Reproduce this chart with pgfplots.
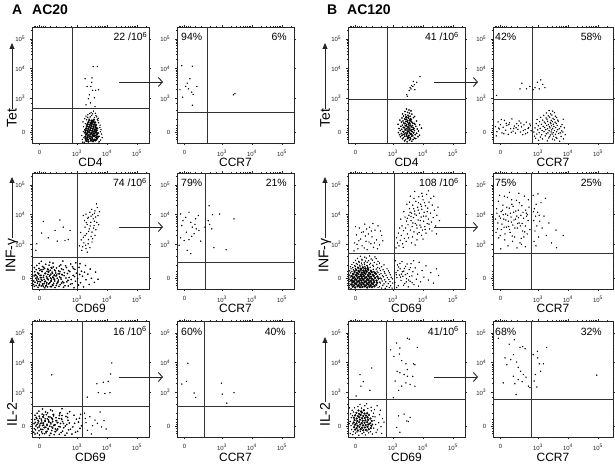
\documentclass[border=0pt]{standalone}
\usepackage{fontspec}
\setmainfont{Liberation Sans}
\usepackage{pgfplots}
\pgfplotsset{compat=1.18}
\usetikzlibrary{arrows.meta}

% axes in display units: 10^3 -> 3, 10^4 -> 4, 10^5 -> 5, zero near 1.8
\pgfplotsset{
  flow/.style={
    scale only axis, width=117pt, height=116pt,
    xmin=1.5, xmax=5.4, ymin=1.5, ymax=5.4,
    clip mode=individual,
    axis line style={black!85, line width=0.6pt},
    xtick={1.75,3,4,5}, ytick={1.85,3,4,5},
    xticklabels={0,10\textsuperscript{3},10\textsuperscript{4},10\textsuperscript{5}},
    yticklabels={0,10\textsuperscript{3},10\textsuperscript{4},10\textsuperscript{5}},
    minor xtick={1.56,1.62,1.68,1.82,1.88,1.95,2.1,2.3,2.6,2.8,3.3,3.48,3.6,3.7,3.78,3.85,3.9,3.95,4.3,4.48,4.6,4.7,4.78,4.85,4.9,4.95,5.3},
    minor ytick={1.62,1.7,1.78,1.92,2.0,2.1,2.3,2.6,2.85,3.3,3.48,3.6,3.7,3.78,3.85,3.9,3.95,4.3,4.48,4.6,4.7,4.78,4.85,4.9,4.95,5.3},
    tick align=outside, major tick length=2.2pt, minor tick length=1.3pt,
    tick style={black!85, line width=0.5pt},
    tick label style={font=\fontsize{6}{7}\selectfont, black!85},
    xticklabel style={yshift=-1.5pt},
    yticklabel style={xshift=-1pt},
  },
  gate/.style={black!80, line width=0.65pt, no marks},
  dot/.style={only marks, mark=*, mark size=0.45pt, mark options={draw=none, fill=black}},
  mid/.style={only marks, mark=*, mark size=0.6pt, mark options={draw=none, fill=black}},
  big/.style={only marks, mark=*, mark size=1pt, mark options={draw=none, fill=black}},
}
\tikzset{
  lab/.style={font=\fontsize{10.5}{12}\selectfont, inner sep=0pt},
  xlab/.style={font=\fontsize{12}{14}\selectfont, anchor=base, yshift=-24pt, inner sep=0pt},
  ylab/.style={rotate=90, anchor=west, inner sep=0pt, font=\fontsize{14}{16}\selectfont},
  yarr/.style={line width=0.9pt, black!85, -{Triangle[length=6pt,width=5pt]}},
  harr/.style={line width=0.9pt, black!85, -{Straight Barb[length=4pt,width=9pt,line width=0.9pt]}},
}

\begin{document}
\begin{tikzpicture}
\useasboundingbox (0,0) rectangle (615pt,465pt);

\node[anchor=base west, inner sep=0pt, font=\bfseries\fontsize{14}{16}\selectfont] at (12pt,450pt) {A};
\node[anchor=base west, inner sep=0pt, font=\bfseries\fontsize{14}{16}\selectfont] at (32pt,450pt) {AC20};
\node[anchor=base west, inner sep=0pt, font=\bfseries\fontsize{14}{16}\selectfont] at (327pt,450pt) {B};
\node[anchor=base west, inner sep=0pt, font=\bfseries\fontsize{14}{16}\selectfont] at (347pt,450pt) {AC120};

% ---------------- row 1 ----------------
\begin{axis}[flow, at={(32pt,322pt)}, anchor=south west]
\addplot[gate] coordinates {(2.86,1.5) (2.86,5.4)};
\addplot[gate] coordinates {(1.5,2.66) (5.4,2.66)};
\addplot[big] coordinates {
(3.31,1.57) (3.38,1.55) (3.47,1.58) (3.54,1.56) (3.62,1.59)
(3.29,1.64) (3.36,1.62) (3.44,1.65) (3.51,1.63) (3.58,1.61) (3.66,1.64)
(3.28,1.71) (3.35,1.69) (3.42,1.72) (3.50,1.70) (3.57,1.73) (3.64,1.69) (3.70,1.71)
(3.30,1.78) (3.37,1.76) (3.45,1.79) (3.52,1.77) (3.59,1.75) (3.66,1.78)
(3.27,1.85) (3.34,1.83) (3.41,1.86) (3.49,1.84) (3.56,1.82) (3.63,1.85) (3.70,1.83)
(3.29,1.92) (3.36,1.90) (3.44,1.93) (3.51,1.91) (3.58,1.89) (3.65,1.92)
(3.31,1.99) (3.38,1.97) (3.46,2.00) (3.53,1.98) (3.60,1.96) (3.67,1.99)
(3.33,2.06) (3.40,2.04) (3.48,2.07) (3.55,2.05) (3.62,2.03)
(3.35,2.13) (3.43,2.11) (3.50,2.14) (3.57,2.12) (3.63,2.10)
(3.38,2.20) (3.46,2.18) (3.53,2.21) (3.60,2.19)
(3.41,2.27) (3.49,2.25) (3.56,2.28)};
\addplot[dot] coordinates {
(3.18,1.62) (3.21,1.88) (3.16,1.75) (3.22,2.05) (3.24,1.52) (3.20,2.21) (3.26,2.32) (3.30,2.40)
(3.36,2.45) (3.44,2.38) (3.52,2.48) (3.58,2.36) (3.63,2.42) (3.68,2.30) (3.72,2.18) (3.76,2.02)
(3.78,1.88) (3.75,1.72) (3.79,1.60) (3.74,1.55) (3.82,1.80) (3.80,1.95) (3.70,2.25) (3.40,2.34)
(3.47,2.52) (3.55,2.57) (3.32,2.28) (3.25,1.95) (3.23,1.68) (3.19,1.53) (3.77,2.10) (3.84,1.68)
(3.66,2.38) (3.49,2.43) (3.35,2.36) (3.28,2.15) (3.73,1.50) (3.71,2.33) (3.61,2.50) (3.42,2.49)
(3.27,3.66) (3.34,3.40) (3.38,2.99) (3.46,3.40) (3.49,3.54) (3.52,3.27) (3.54,4.07) (3.68,4.07)
(3.62,3.27) (3.72,3.29) (3.50,3.69) (3.58,3.02) (3.41,3.12) (3.30,2.78) (3.60,2.72) (3.45,2.85)};
\node[lab, anchor=base east, xshift=-1.5pt, yshift=-14pt] at (rel axis cs:1,1) {22 /10\textsuperscript{6}};
\node[xlab] at (rel axis cs:0.5,0) {CD4};
\end{axis}

\begin{axis}[flow, at={(177pt,322pt)}, anchor=south west]
\addplot[gate] coordinates {(2.51,1.5) (2.51,5.4)};
\addplot[gate] coordinates {(1.5,2.54) (5.4,2.54)};
\addplot[dot] coordinates {
(1.66,4.10) (2.01,4.08) (1.60,3.29) (1.69,3.04) (1.79,3.40) (1.88,3.32) (1.93,3.66)
(1.99,3.21) (2.04,3.13) (2.16,3.40) (2.01,2.77) (1.84,3.51) (3.38,3.12) (3.43,3.16)};
\node[lab, anchor=base west, xshift=4pt, yshift=-14pt] at (rel axis cs:0,1) {94\%};
\node[lab, anchor=base east, xshift=-7pt, yshift=-14pt] at (rel axis cs:1,1) {6\%};
\node[xlab] at (rel axis cs:0.5,0) {CCR7};
\end{axis}

\begin{axis}[flow, at={(348pt,322pt)}, anchor=south west]
\addplot[gate] coordinates {(2.82,1.5) (2.82,5.4)};
\addplot[gate] coordinates {(1.5,2.96) (5.4,2.96)};
\addplot[mid] coordinates {
(3.38,1.57) (3.47,1.54) (3.55,1.59) (3.63,1.56)
(3.31,1.64) (3.42,1.61) (3.50,1.66) (3.58,1.63) (3.67,1.62) (3.76,1.65)
(3.25,1.71) (3.35,1.68) (3.44,1.73) (3.49,1.70) (3.56,1.69) (3.62,1.72) (3.71,1.67) (3.83,1.71)
(3.22,1.78) (3.30,1.75) (3.39,1.80) (3.46,1.77) (3.53,1.76) (3.59,1.79) (3.66,1.74) (3.74,1.78) (3.88,1.76)
(3.18,1.85) (3.28,1.82) (3.36,1.87) (3.43,1.84) (3.48,1.83) (3.55,1.86) (3.61,1.81) (3.69,1.85) (3.79,1.83)
(3.24,1.92) (3.33,1.89) (3.40,1.94) (3.47,1.91) (3.52,1.90) (3.58,1.93) (3.64,1.88) (3.72,1.92) (3.85,1.90)
(3.20,1.99) (3.29,1.96) (3.37,2.01) (3.44,1.98) (3.50,1.97) (3.56,2.00) (3.63,1.95) (3.70,1.99) (3.81,1.97) (3.95,2.00)
(3.26,2.06) (3.34,2.03) (3.41,2.08) (3.47,2.05) (3.53,2.04) (3.60,2.07) (3.67,2.02) (3.76,2.06)
(3.17,2.13) (3.31,2.10) (3.39,2.15) (3.45,2.12) (3.51,2.11) (3.57,2.14) (3.65,2.09) (3.73,2.13) (3.89,2.11)
(3.28,2.20) (3.36,2.17) (3.43,2.22) (3.49,2.19) (3.55,2.18) (3.62,2.21) (3.70,2.16)
(3.23,2.27) (3.33,2.24) (3.41,2.29) (3.48,2.26) (3.54,2.25) (3.61,2.28) (3.78,2.24)
(3.30,2.34) (3.39,2.31) (3.46,2.36) (3.52,2.33) (3.59,2.32) (3.68,2.35)
(3.35,2.41) (3.44,2.38) (3.50,2.43) (3.57,2.40) (3.72,2.39)
(3.32,2.48) (3.42,2.45) (3.55,2.50) (3.63,2.47)
(3.40,2.56) (3.49,2.53) (3.60,2.58) (3.45,2.64) (3.53,2.61)
(3.39,1.73) (3.45,1.80) (3.51,1.74) (3.57,1.82) (3.63,1.77) (3.36,1.88) (3.42,1.95) (3.49,1.87)
(3.54,1.94) (3.61,1.90) (3.67,1.96) (3.38,2.02) (3.44,2.09) (3.50,2.01) (3.56,2.10) (3.62,2.04)
(3.40,2.16) (3.47,2.23) (3.53,2.15) (3.59,2.24) (3.65,2.17) (3.45,2.30) (3.51,2.37) (3.57,2.29)
(3.34,1.79) (3.68,1.84) (3.48,1.65) (3.53,1.69) (3.43,2.36) (3.58,1.66)};
\addplot[dot] coordinates {
(3.46,3.12) (3.54,3.27) (3.60,3.32) (3.66,3.40) (3.71,3.46) (3.79,3.54) (3.73,3.29) (3.62,3.43)
(3.90,3.73) (3.57,3.36) (3.68,3.57) (3.48,3.07)};
\node[lab, anchor=base east, xshift=-6pt, yshift=-14pt] at (rel axis cs:1,1) {41 /10\textsuperscript{6}};
\node[xlab] at (rel axis cs:0.5,0) {CD4};
\end{axis}

\begin{axis}[flow, width=120pt, xmax=5.5, at={(493pt,322pt)}, anchor=south west]
\addplot[gate] coordinates {(2.80,1.5) (2.80,5.4)};
\addplot[gate] coordinates {(1.5,2.98) (5.5,2.98)};
\addplot[dot] coordinates {
(3.02,1.59) (3.31,1.57) (3.55,1.60) (3.72,1.56)
(2.92,1.66) (3.15,1.64) (3.36,1.67) (3.48,1.63) (3.63,1.66) (3.85,1.64)
(2.88,1.73) (3.08,1.70) (3.24,1.74) (3.39,1.71) (3.52,1.73) (3.60,1.69) (3.77,1.72)
(2.96,1.80) (3.12,1.78) (3.28,1.81) (3.41,1.77) (3.47,1.80) (3.58,1.79) (3.69,1.82) (3.91,1.78)
(2.86,1.87) (3.04,1.85) (3.20,1.88) (3.33,1.84) (3.44,1.87) (3.51,1.85) (3.62,1.88) (3.74,1.84) (3.83,1.87)
(2.99,1.94) (3.14,1.92) (3.26,1.95) (3.37,1.91) (3.46,1.94) (3.55,1.92) (3.66,1.95) (3.79,1.91)
(2.90,2.01) (3.07,1.99) (3.22,2.02) (3.32,1.98) (3.40,2.01) (3.49,1.99) (3.59,2.02) (3.71,1.98) (3.88,2.01)
(3.01,2.08) (3.17,2.06) (3.29,2.09) (3.38,2.05) (3.45,2.08) (3.53,2.06) (3.64,2.09) (3.76,2.05)
(2.94,2.15) (3.11,2.13) (3.25,2.16) (3.35,2.12) (3.43,2.15) (3.51,2.13) (3.61,2.16) (3.80,2.12)
(3.05,2.22) (3.21,2.20) (3.32,2.23) (3.41,2.19) (3.48,2.22) (3.57,2.20) (3.68,2.23)
(2.97,2.29) (3.16,2.27) (3.30,2.30) (3.44,2.26) (3.54,2.29) (3.66,2.27) (3.84,2.30)
(3.09,2.36) (3.27,2.34) (3.39,2.37) (3.50,2.33) (3.62,2.36)
(3.19,2.43) (3.34,2.41) (3.46,2.44) (3.58,2.40) (3.28,2.51) (3.42,2.48) (3.55,2.52) (3.37,2.59) (3.49,2.57)
(1.58,2.05) (1.63,1.88) (1.67,2.21) (1.71,1.97) (1.75,2.12) (1.80,1.84) (1.84,2.03) (1.88,2.26)
(1.92,1.93) (1.96,2.09) (2.01,1.79) (2.05,2.18) (2.09,1.98) (2.13,2.31) (2.17,1.90) (2.21,2.07)
(2.25,1.83) (2.29,2.15) (2.33,1.96) (2.37,2.24) (2.41,1.87) (2.45,2.04) (2.49,1.78) (2.53,2.11)
(2.57,1.95) (2.61,2.20) (2.65,1.85) (2.69,2.02) (2.73,2.14) (2.77,1.91) (1.61,1.74) (1.78,2.29)
(1.94,2.16) (2.11,1.86) (2.27,2.01) (2.43,2.17) (2.59,1.81) (2.75,2.08) (1.69,2.00) (1.86,1.81)
(2.03,2.12) (2.19,1.99) (2.35,2.08) (2.51,1.92) (2.67,1.99)
(2.40,3.32) (2.46,3.51) (2.62,3.32) (2.73,3.40) (2.90,3.36) (2.98,3.54) (3.04,3.32) (3.09,3.62)
(3.16,3.47) (3.23,3.36) (2.84,3.29) (1.62,3.10)};
\node[lab, anchor=base west, xshift=2pt, yshift=-14pt] at (rel axis cs:0,1) {42\%};
\node[lab, anchor=base east, xshift=-11pt, yshift=-14pt] at (rel axis cs:1,1) {58\%};
\node[xlab] at (rel axis cs:0.5,0) {CCR7};
\end{axis}

% ---------------- row 2 ----------------
\begin{axis}[flow, at={(32pt,176pt)}, anchor=south west]
\addplot[gate] coordinates {(3.01,1.5) (3.01,5.4)};
\addplot[gate] coordinates {(1.5,2.56) (5.4,2.56)};
\addplot[mid] coordinates {
(1.58,1.59) (1.70,1.56) (1.81,1.60) (1.93,1.54) (2.02,1.57) (2.15,1.58) (2.27,1.55) (2.40,1.59) (2.55,1.56) (2.71,1.60) (2.90,1.54) (3.22,1.57)
(1.55,1.65) (1.64,1.62) (1.75,1.66) (1.86,1.63) (1.97,1.61) (2.06,1.67) (2.18,1.64) (2.31,1.62) (2.44,1.65) (2.60,1.61) (2.78,1.66) (3.05,1.63) (3.41,1.65)
(1.60,1.73) (1.68,1.70) (1.79,1.74) (1.90,1.68) (1.99,1.71) (2.10,1.72) (2.22,1.69) (2.35,1.73) (2.49,1.70) (2.66,1.74) (2.84,1.68) (3.12,1.71) (3.58,1.72)
(1.56,1.77) (1.66,1.80) (1.76,1.75) (1.84,1.79) (1.95,1.76) (2.04,1.81) (2.14,1.78) (2.26,1.77) (2.38,1.80) (2.52,1.75) (2.70,1.79) (2.95,1.76) (3.30,1.81)
(1.62,1.86) (1.72,1.83) (1.82,1.88) (1.91,1.82) (2.01,1.85) (2.12,1.87) (2.23,1.84) (2.34,1.86) (2.47,1.83) (2.63,1.87) (2.81,1.82) (3.02,1.85) (3.48,1.86) (3.70,1.83)
(1.57,1.94) (1.67,1.91) (1.77,1.95) (1.88,1.89) (1.98,1.92) (2.08,1.93) (2.19,1.90) (2.30,1.94) (2.42,1.91) (2.57,1.95) (2.74,1.89) (2.92,1.92) (3.18,1.93)
(1.61,1.98) (1.71,2.01) (1.80,1.96) (1.93,2.02) (2.03,1.99) (2.13,2.00) (2.24,1.97) (2.37,2.01) (2.51,1.98) (2.68,2.02) (2.87,1.96) (3.09,1.99) (3.36,2.00)
(1.59,2.08) (1.69,2.05) (1.83,2.09) (1.94,2.03) (2.05,2.06) (2.17,2.07) (2.29,2.04) (2.43,2.08) (2.58,2.05) (2.76,2.09) (2.98,2.03) (3.25,2.06) (3.62,2.07)
(1.64,2.15) (1.76,2.12) (1.87,2.16) (2.00,2.10) (2.11,2.13) (2.25,2.14) (2.39,2.11) (2.54,2.15) (2.72,2.12) (2.93,2.16) (3.15,2.10)
(1.58,2.22) (1.73,2.19) (1.89,2.23) (2.02,2.17) (2.16,2.20) (2.32,2.21) (2.48,2.18) (2.65,2.22) (2.88,2.19) (3.07,2.23) (3.44,2.17)
(1.66,2.29) (1.85,2.26) (2.07,2.30) (2.21,2.24) (2.41,2.27) (2.62,2.28) (2.85,2.25) (3.28,2.29)
(1.74,2.36) (1.96,2.33) (2.20,2.37) (2.46,2.31) (2.79,2.34) (3.10,2.35)
(1.81,2.43) (2.09,2.40) (2.53,2.44) (2.96,2.38)
(1.74,1.62) (1.85,1.67) (1.96,1.60) (2.07,1.69) (2.20,1.63) (2.33,1.68) (1.70,1.75) (1.81,1.81)
(1.92,1.74) (2.03,1.83) (2.13,1.76) (2.25,1.82) (2.37,1.74) (1.78,1.88) (1.89,1.95) (2.00,1.87)
(2.10,1.96) (2.21,1.89) (2.32,1.97) (1.73,2.01) (1.84,2.09) (1.95,2.02) (2.06,2.10) (2.18,2.03)
(2.28,2.11) (1.80,2.15) (1.92,2.19) (2.04,2.16) (2.14,2.22) (2.46,1.88) (2.42,2.01) (1.67,1.87)
(1.63,1.96) (2.56,1.71) (2.50,1.99) (1.99,1.67) (2.11,1.58) (1.88,1.58) (2.24,1.95) (2.15,1.84)};
\addplot[dot] coordinates {
(3.21,3.97) (3.30,4.02) (3.38,3.91) (3.43,4.08) (3.52,4.00) (3.60,4.13) (3.68,4.24) (3.70,3.97)
(3.54,3.86) (3.46,3.74) (3.34,3.67) (3.27,3.58) (3.41,3.52) (3.57,3.63) (3.50,3.41) (3.32,3.36)
(3.63,3.49) (3.21,3.24) (3.38,3.16) (3.52,3.19) (3.29,2.97) (3.43,2.89) (3.16,2.80) (3.34,2.74)
(3.66,3.74) (3.25,3.80) (3.36,3.88) (3.47,3.95) (3.58,4.05) (3.62,3.92) (3.44,3.62) (3.55,3.55)
(3.39,3.44) (3.27,3.30) (3.47,3.27) (3.60,3.30) (3.23,3.05) (3.37,3.02) (3.50,3.08) (3.19,2.92)
(3.30,2.86) (3.12,3.40) (3.72,3.66) (3.75,4.10) (3.49,4.18) (3.65,4.36) (3.08,2.95) (3.14,3.15)
(3.58,3.78) (3.31,3.73)
(1.88,3.77) (1.82,3.38) (2.27,3.47) (2.54,3.58) (2.60,3.13) (2.71,3.16) (1.66,3.02) (2.43,3.82)
(2.77,3.47) (2.04,3.22) (2.34,3.11) (1.63,2.80)};
\node[lab, anchor=base east, xshift=-2pt, yshift=-14pt] at (rel axis cs:1,1) {74 /10\textsuperscript{6}};
\node[xlab] at (rel axis cs:0.5,0) {CD69};
\end{axis}

\begin{axis}[flow, at={(177pt,176pt)}, anchor=south west]
\addplot[gate] coordinates {(2.46,1.5) (2.46,5.4)};
\addplot[gate] coordinates {(1.5,2.40) (5.4,2.40)};
\addplot[dot] coordinates {
(1.62,4.02) (1.70,3.80) (1.79,3.91) (1.90,4.08) (1.96,3.74) (2.01,3.58) (2.12,3.86) (2.21,3.97)
(2.07,3.36) (1.81,3.41) (1.66,3.63) (1.74,3.13) (1.90,3.16) (2.29,3.11) (2.14,3.52) (1.99,3.27)
(1.57,2.97) (1.84,2.80) (1.96,2.69) (2.23,3.47) (1.62,3.22) (2.10,3.67) (2.43,3.58)
(2.57,4.30) (2.54,3.80) (2.59,3.67) (2.68,4.00) (2.66,3.52) (2.73,2.89) (2.92,4.02) (3.40,3.86) (3.14,2.82)};
\node[lab, anchor=base west, xshift=4pt, yshift=-14pt] at (rel axis cs:0,1) {79\%};
\node[lab, anchor=base east, xshift=-7pt, yshift=-14pt] at (rel axis cs:1,1) {21\%};
\node[xlab] at (rel axis cs:0.5,0) {CCR7};
\end{axis}

\begin{axis}[flow, at={(348pt,176pt)}, anchor=south west]
\addplot[gate] coordinates {(3.04,1.5) (3.04,5.4)};
\addplot[gate] coordinates {(1.5,2.69) (5.4,2.69)};
\addplot[big] coordinates {
(1.66,1.58) (1.74,1.55) (1.82,1.59) (1.90,1.56) (1.98,1.57) (2.06,1.59) (2.14,1.55) (2.22,1.58) (2.30,1.56) (2.38,1.59)
(1.62,1.65) (1.70,1.62) (1.78,1.66) (1.86,1.63) (1.94,1.64) (2.02,1.66) (2.10,1.62) (2.18,1.65) (2.26,1.63) (2.34,1.66) (2.44,1.64)
(1.65,1.72) (1.73,1.69) (1.81,1.73) (1.89,1.70) (1.97,1.71) (2.05,1.73) (2.13,1.69) (2.21,1.72) (2.29,1.70) (2.37,1.73) (2.47,1.71)
(1.62,1.79) (1.70,1.76) (1.78,1.80) (1.86,1.77) (1.94,1.78) (2.02,1.80) (2.10,1.76) (2.18,1.79) (2.26,1.77) (2.35,1.80) (2.45,1.78)
(1.66,1.86) (1.74,1.83) (1.82,1.87) (1.90,1.84) (1.98,1.85) (2.06,1.87) (2.14,1.83) (2.22,1.86) (2.30,1.84) (2.40,1.87) (2.52,1.85)
(1.63,1.93) (1.71,1.90) (1.79,1.94) (1.87,1.91) (1.95,1.92) (2.03,1.94) (2.11,1.90) (2.19,1.93) (2.27,1.91) (2.36,1.94) (2.48,1.92)
(1.68,2.00) (1.76,1.97) (1.84,2.01) (1.92,1.98) (2.00,1.99) (2.08,2.01) (2.16,1.97) (2.24,2.00) (2.33,1.98) (2.43,2.01)
(1.72,2.07) (1.80,2.04) (1.88,2.08) (1.96,2.05) (2.04,2.06) (2.12,2.08) (2.20,2.04) (2.29,2.07) (2.39,2.05)
(1.77,2.14) (1.85,2.11) (1.93,2.15) (2.01,2.12) (2.09,2.13) (2.17,2.15) (2.26,2.11)
(1.84,2.21) (1.92,2.18) (2.00,2.22) (2.08,2.19) (2.16,2.20)};
\addplot[dot] coordinates {
(1.54,1.54) (1.60,1.52) (2.50,1.55) (2.62,1.53) (2.74,1.52) (2.88,1.55) (2.97,1.53)
(1.55,1.61) (2.55,1.58) (2.66,1.62) (2.79,1.59) (2.92,1.61)
(1.53,1.69) (1.58,1.66) (2.58,1.70) (2.70,1.67) (2.84,1.68) (2.99,1.70)
(1.56,1.76) (2.56,1.73) (2.64,1.77) (2.76,1.74) (2.90,1.75)
(1.54,1.83) (1.59,1.80) (2.61,1.84) (2.72,1.81) (2.86,1.82) (2.98,1.84)
(1.57,1.90) (2.58,1.87) (2.68,1.91) (2.81,1.88) (2.94,1.89)
(1.55,1.97) (1.60,1.94) (2.55,1.98) (2.65,1.95) (2.77,1.96) (2.91,1.98)
(1.58,2.04) (1.65,2.01) (2.50,2.05) (2.60,2.02) (2.73,2.03) (2.88,2.05)
(1.56,2.11) (1.63,2.08) (1.70,2.12) (2.36,2.09) (2.47,2.10) (2.58,2.12) (2.71,2.08) (2.85,2.11)
(1.60,2.18) (1.68,2.15) (1.75,2.19) (2.34,2.16) (2.44,2.17) (2.55,2.19) (2.67,2.15) (2.80,2.18)
(1.58,2.25) (1.66,2.22) (1.74,2.26) (1.82,2.23) (1.90,2.27) (1.98,2.24) (2.06,2.25) (2.15,2.27) (2.24,2.23) (2.35,2.26) (2.49,2.22) (2.62,2.25)
(1.63,2.32) (1.72,2.29) (1.81,2.33) (1.89,2.30) (1.97,2.31) (2.05,2.33) (2.13,2.29) (2.22,2.32) (2.33,2.30) (2.46,2.33) (2.70,2.31)
(1.69,2.39) (1.78,2.36) (1.87,2.40) (1.95,2.37) (2.04,2.38) (2.14,2.40) (2.25,2.36) (2.38,2.39) (2.55,2.37)
(1.75,2.46) (1.86,2.43) (1.97,2.47) (2.08,2.44) (2.19,2.45) (2.32,2.47) (2.50,2.43)
(1.82,2.53) (1.96,2.50) (2.11,2.54) (2.27,2.51) (2.44,2.52) (1.91,2.60) (2.06,2.57) (2.22,2.61) (2.40,2.58)
(3.06,1.72) (3.10,2.05) (3.13,1.88) (3.15,2.31) (3.18,1.61) (3.21,1.97) (3.24,2.18) (3.27,1.79)
(3.30,2.42) (3.33,1.93) (3.36,2.10) (3.39,1.68) (3.42,2.26) (3.45,1.85) (3.48,2.02) (3.51,1.57)
(3.54,2.15) (3.57,1.76) (3.60,2.35) (3.63,1.94) (3.66,2.08) (3.70,1.65) (3.74,2.21) (3.78,1.83)
(3.82,2.00) (3.87,2.40) (3.92,1.74) (3.97,2.12) (4.03,1.90) (4.10,2.28) (4.18,1.80) (4.26,2.05)
(4.35,1.70) (4.45,2.18) (4.52,1.95) (3.08,2.45) (3.12,1.55) (3.19,2.24) (3.25,1.90) (3.31,2.08)
(3.35,1.62) (3.41,1.98) (3.47,2.34) (3.52,1.80) (3.58,2.22) (3.64,1.71) (3.69,2.45) (3.11,1.98)
(3.28,2.00) (3.44,1.74) (3.16,2.12) (3.23,2.36) (3.38,2.19) (3.55,1.92) (3.85,1.60)
(3.10,2.88) (3.15,3.05) (3.12,3.22) (3.20,2.95) (3.24,3.14) (3.18,3.38) (3.28,3.30) (3.32,3.02)
(3.35,3.46) (3.30,3.62) (3.38,3.20) (3.42,3.55) (3.45,3.78) (3.40,3.92) (3.48,3.35) (3.50,3.66)
(3.53,3.98) (3.55,4.20) (3.58,3.48) (3.60,3.80) (3.62,4.05) (3.64,3.60) (3.66,4.32) (3.68,3.90)
(3.70,3.42) (3.72,4.12) (3.74,3.70) (3.76,4.45) (3.78,3.98) (3.80,3.55) (3.82,4.25) (3.84,3.82)
(3.86,4.60) (3.88,4.05) (3.90,3.65) (3.92,4.35) (3.94,3.92) (3.96,4.18) (3.98,3.48) (4.00,4.50)
(4.02,3.78) (4.04,4.08) (4.06,3.60) (4.08,4.30) (4.10,3.95) (4.12,4.68) (4.14,3.70) (4.16,4.22)
(4.18,3.85) (4.20,4.42) (4.22,3.52) (4.25,4.05) (4.28,3.75) (4.31,4.32) (4.34,3.90) (4.38,4.15)
(4.42,3.62) (4.46,3.98) (4.50,4.25) (4.55,3.80) (3.58,4.62) (3.72,4.78) (3.96,4.72) (4.18,4.80)
(3.46,4.35) (3.36,4.10) (3.26,3.85) (3.52,3.22) (3.65,3.25) (3.80,3.15) (3.95,3.30) (4.10,3.38)
(4.30,3.45) (4.45,3.35) (3.22,3.55) (3.34,2.90) (3.44,3.10) (3.62,3.05) (3.74,2.98) (3.87,3.40)
(4.00,3.18) (3.70,4.55) (3.85,4.40) (3.98,4.62) (4.05,4.40) (3.55,4.42) (3.66,3.72) (3.79,3.65)
(3.91,3.80) (4.02,3.95) (4.14,4.10) (4.26,4.55) (3.60,3.93) (3.73,4.02) (3.84,4.15) (3.95,4.28)
(4.07,3.50) (4.20,3.68) (3.48,3.88) (3.57,4.08) (3.69,4.20) (3.81,3.35) (3.93,3.58) (4.36,4.62)
(1.72,3.05) (1.78,3.32) (1.83,2.85) (1.88,3.55) (1.92,3.18) (1.97,2.95) (2.01,3.42) (2.06,3.68)
(2.10,3.10) (2.14,2.82) (2.18,3.35) (2.22,3.58) (2.26,3.02) (2.30,3.25) (2.35,2.90) (2.40,3.48)
(2.45,3.15) (2.50,3.62) (2.55,2.98) (2.62,3.30) (1.70,2.78) (1.75,3.60) (1.86,3.12) (1.95,3.40)
(2.04,2.88) (2.12,3.52) (2.20,3.08) (2.28,3.45) (2.38,3.05) (2.48,2.85) (2.58,3.45) (1.80,3.00)
(2.08,3.28) (2.33,3.70) (2.66,3.12)};
\node[lab, anchor=base east, xshift=-6pt, yshift=-14pt] at (rel axis cs:1,1) {108 /10\textsuperscript{6}};
\node[xlab] at (rel axis cs:0.5,0) {CD69};
\end{axis}

\begin{axis}[flow, width=120pt, xmax=5.5, at={(493pt,176pt)}, anchor=south west]
\addplot[gate] coordinates {(2.79,1.5) (2.79,5.4)};
\addplot[gate] coordinates {(1.5,2.69) (5.5,2.69)};
\addplot[dot] coordinates {
(1.58,3.85) (1.62,4.20) (1.65,3.52) (1.68,4.45) (1.71,3.95) (1.74,3.30) (1.77,4.10) (1.80,3.68)
(1.83,4.32) (1.86,3.85) (1.89,3.15) (1.92,4.02) (1.95,3.58) (1.98,4.58) (2.01,3.78) (2.04,4.22)
(2.07,3.40) (2.10,3.92) (2.13,4.35) (2.16,3.65) (2.19,4.08) (2.22,3.25) (2.25,3.85) (2.28,4.48)
(2.31,3.55) (2.34,4.15) (2.37,3.72) (2.40,3.05) (2.43,3.98) (2.46,4.30) (2.49,3.45) (2.52,3.88)
(2.55,4.62) (2.58,3.62) (2.61,4.05) (2.64,3.35) (2.67,3.80) (2.70,4.25) (2.73,3.50) (1.60,3.40)
(1.66,3.72) (1.72,4.65) (1.78,3.50) (1.84,4.00) (1.90,3.35) (1.96,4.25) (2.02,3.60) (2.08,4.05)
(2.14,3.28) (2.20,3.82) (2.26,4.12) (2.32,3.70) (2.38,4.40) (2.44,3.20) (2.50,4.08) (2.56,3.42)
(2.62,3.95) (2.68,4.50) (1.63,4.05) (1.75,3.88) (1.87,3.58) (1.99,3.98) (2.11,3.75) (2.23,3.55)
(2.35,3.90) (2.47,3.70) (2.59,4.15) (1.69,3.22) (1.81,4.15) (1.93,3.82) (2.05,3.50) (2.17,4.28)
(2.29,3.95) (2.41,3.62) (2.53,3.25) (2.65,4.00) (2.00,2.95) (2.15,3.10) (2.30,2.88) (2.45,3.00)
(2.12,4.50) (2.36,4.72) (2.05,4.75) (1.88,4.62) (2.58,2.92) (1.76,2.85)
(2.84,4.65) (2.86,3.80) (2.88,4.20) (2.90,3.45) (2.92,3.95) (2.94,4.35) (2.96,3.62) (2.99,4.08)
(3.02,3.25) (3.06,3.78) (3.10,4.40) (3.14,3.55) (3.20,3.95) (3.28,3.30) (3.36,3.72) (3.45,3.05)
(3.60,3.48) (3.84,3.30) (3.62,2.89) (2.87,3.10) (2.93,2.95) (3.04,3.98) (2.85,4.10) (3.25,4.55) (3.00,4.70)};
\node[lab, anchor=base west, xshift=2pt, yshift=-14pt] at (rel axis cs:0,1) {75\%};
\node[lab, anchor=base east, xshift=-11pt, yshift=-14pt] at (rel axis cs:1,1) {25\%};
\node[xlab] at (rel axis cs:0.5,0) {CCR7};
\end{axis}

% ---------------- row 3 ----------------
\begin{axis}[flow, at={(32pt,28pt)}, anchor=south west]
\addplot[gate] coordinates {(3.19,1.5) (3.19,5.4)};
\addplot[gate] coordinates {(1.5,2.53) (5.4,2.53)};
\addplot[mid] coordinates {
(1.60,1.60) (1.75,1.57) (1.92,1.61) (2.08,1.55) (2.24,1.58) (2.41,1.59) (2.60,1.56) (2.83,1.60)
(1.56,1.66) (1.68,1.63) (1.82,1.67) (1.97,1.64) (2.13,1.62) (2.29,1.68) (2.47,1.65) (2.66,1.63) (2.95,1.66)
(1.62,1.74) (1.73,1.71) (1.86,1.75) (2.00,1.69) (2.16,1.72) (2.33,1.73) (2.52,1.70) (2.72,1.74) (3.02,1.69)
(1.58,1.78) (1.69,1.81) (1.79,1.76) (1.91,1.82) (2.04,1.79) (2.19,1.80) (2.36,1.77) (2.56,1.81) (2.78,1.76) (3.10,1.79)
(1.63,1.87) (1.74,1.84) (1.85,1.89) (1.96,1.83) (2.09,1.86) (2.23,1.88) (2.40,1.85) (2.61,1.87) (2.86,1.84) (3.15,1.88)
(1.57,1.95) (1.67,1.92) (1.78,1.96) (1.89,1.90) (2.00,1.93) (2.13,1.94) (2.27,1.91) (2.45,1.95) (2.66,1.92) (2.92,1.96)
(1.61,1.99) (1.72,2.02) (1.83,1.97) (1.94,2.03) (2.06,2.00) (2.19,2.01) (2.34,1.98) (2.52,2.02) (2.74,1.97) (3.05,2.00)
(1.59,2.09) (1.70,2.06) (1.81,2.10) (1.93,2.04) (2.05,2.07) (2.18,2.08) (2.32,2.05) (2.49,2.09) (2.70,2.06) (2.98,2.10)
(1.64,2.16) (1.76,2.13) (1.88,2.17) (2.01,2.11) (2.15,2.14) (2.30,2.15) (2.48,2.12) (2.69,2.16) (3.08,2.13)
(1.60,2.23) (1.74,2.20) (1.89,2.24) (2.05,2.18) (2.22,2.21) (2.41,2.22) (2.63,2.19) (2.90,2.23)
(1.67,2.30) (1.84,2.27) (2.02,2.31) (2.21,2.25) (2.42,2.28) (2.68,2.29) (3.12,2.26)
(1.73,2.37) (1.95,2.34) (2.18,2.38) (2.44,2.32) (2.76,2.35) (1.85,2.44) (2.12,2.41) (2.50,2.45)
(1.80,1.75) (1.92,1.82) (2.04,1.76) (2.16,1.84) (2.28,1.77) (1.76,1.90) (1.88,1.97) (2.00,1.89)
(2.12,1.98) (2.24,1.91) (2.36,1.99) (1.82,2.04) (1.94,2.11) (2.06,2.03) (2.18,2.12) (2.30,2.05)
(1.86,2.18) (1.98,2.25) (2.10,2.17) (2.22,2.26) (1.70,1.97) (2.44,1.84) (2.40,2.12) (1.97,1.68)
(2.12,1.62) (1.85,1.62) (2.27,1.68) (2.55,1.95) (2.50,2.22) (1.66,2.12)};
\addplot[dot] coordinates {
(3.77,2.34) (3.97,1.77) (3.60,2.07) (3.43,2.18) (3.68,1.96) (3.82,1.84) (3.52,1.88) (3.30,1.98)
(3.35,1.72) (3.25,2.30) (3.90,2.05) (3.48,1.60) (3.28,2.12)
(2.16,3.59) (3.66,3.29) (3.88,3.34) (4.04,3.37) (3.71,2.99) (3.93,2.96) (4.10,2.99) (4.12,3.62)
(4.16,3.99) (3.34,2.84)};
\node[lab, anchor=base east, xshift=-2pt, yshift=-14pt] at (rel axis cs:1,1) {16 /10\textsuperscript{6}};
\node[xlab] at (rel axis cs:0.5,0) {CD69};
\end{axis}

\begin{axis}[flow, at={(177pt,28pt)}, anchor=south west]
\addplot[gate] coordinates {(2.42,1.5) (2.42,5.4)};
\addplot[gate] coordinates {(1.5,2.53) (5.4,2.53)};
\addplot[dot] coordinates {
(1.66,3.28) (1.86,3.98) (1.82,3.37) (2.07,2.98) (2.12,2.83) (2.98,3.31) (3.01,2.94) (3.16,2.64) (3.40,2.99)};
\node[lab, anchor=base west, xshift=4pt, yshift=-14pt] at (rel axis cs:0,1) {60\%};
\node[lab, anchor=base east, xshift=-8pt, yshift=-14pt] at (rel axis cs:1,1) {40\%};
\node[xlab] at (rel axis cs:0.5,0) {CCR7};
\end{axis}

\begin{axis}[flow, at={(348pt,28pt)}, anchor=south west]
\addplot[gate] coordinates {(2.77,1.5) (2.77,5.4)};
\addplot[gate] coordinates {(1.5,2.76) (5.4,2.76)};
\addplot[only marks, mark=*, mark size=0.9pt, mark options={draw=none, fill=black}] coordinates {
(1.74,1.75) (1.83,1.72) (1.92,1.76) (2.01,1.73) (2.10,1.74) (2.19,1.76)
(1.70,1.83) (1.79,1.80) (1.88,1.84) (1.97,1.81) (2.06,1.82) (2.15,1.84) (2.26,1.80)
(1.73,1.91) (1.82,1.88) (1.91,1.92) (2.00,1.89) (2.09,1.90) (2.18,1.92) (2.28,1.88)
(1.69,1.99) (1.78,1.96) (1.87,2.00) (1.96,1.97) (2.05,1.98) (2.14,2.00) (2.24,1.96)
(1.72,2.07) (1.81,2.04) (1.90,2.08) (1.99,2.05) (2.08,2.06) (2.17,2.08) (2.29,2.04)
(1.70,2.15) (1.79,2.12) (1.88,2.16) (1.97,2.13) (2.06,2.14) (2.15,2.16) (2.25,2.12)
(1.74,2.23) (1.83,2.20) (1.92,2.24) (2.01,2.21) (2.10,2.22) (2.20,2.24)
(1.78,2.31) (1.87,2.28) (1.96,2.32) (2.05,2.29) (2.14,2.30) (1.85,2.39) (1.94,2.36) (2.03,2.40)};
\addplot[dot] coordinates {
(1.58,1.62) (1.66,1.58) (1.75,1.63) (1.86,1.56) (1.97,1.61) (2.08,1.57) (2.19,1.64) (2.31,1.60)
(2.44,1.66) (1.62,1.75) (1.60,1.88) (1.57,2.02) (1.61,2.15) (1.59,2.28) (1.64,2.40) (1.72,2.48)
(1.83,2.52) (1.95,2.47) (2.06,2.55) (2.16,2.46) (2.27,2.50) (2.38,2.42) (2.35,2.30) (2.40,2.18)
(2.37,2.05) (2.42,1.92) (2.36,1.80) (2.48,1.74) (2.52,1.98) (2.55,2.25) (2.60,1.85) (2.65,2.12)
(2.58,2.40) (1.68,1.68) (1.80,1.67) (1.91,1.69) (2.03,1.66) (2.14,1.70) (2.25,1.68) (1.66,1.94)
(1.65,2.22) (1.68,2.34) (2.32,1.93) (2.33,2.19) (2.28,2.38) (1.90,2.60) (2.12,2.62) (2.47,2.55)
(2.62,1.62) (1.54,1.95) (1.55,2.48) (2.70,2.00)
(2.92,4.43) (3.12,4.66) (3.23,4.49) (3.48,4.82) (3.54,4.79) (3.81,4.51) (3.03,4.21) (3.21,4.29)
(3.29,4.07) (3.43,3.96) (3.68,3.96) (3.73,3.93) (3.14,3.71) (3.23,3.66) (3.37,3.60) (3.48,3.77)
(3.07,3.38) (3.43,3.32) (3.57,3.27) (3.73,3.21) (3.29,3.21) (3.19,3.07) (3.48,3.54) (3.66,3.54)
(3.01,2.82) (3.37,2.27) (3.46,2.04) (3.51,2.02) (3.12,1.82) (3.23,1.66) (3.57,2.16) (3.18,2.21)
(1.90,3.60) (1.93,3.21) (2.23,3.07) (2.01,3.36) (1.77,2.88) (2.29,3.82)};
\node[lab, anchor=base east, xshift=-6pt, yshift=-14pt] at (rel axis cs:1,1) {41/10\textsuperscript{6}};
\node[xlab] at (rel axis cs:0.5,0) {CD69};
\end{axis}

\begin{axis}[flow, width=120pt, xmax=5.5, at={(493pt,28pt)}, anchor=south west]
\addplot[gate] coordinates {(2.77,1.5) (2.77,5.4)};
\addplot[gate] coordinates {(1.5,2.76) (5.5,2.76)};
\addplot[dot] coordinates {
(1.68,4.82) (2.04,4.62) (2.21,4.77) (2.40,4.51) (2.49,4.54) (2.57,4.47) (2.18,4.27) (2.09,4.10)
(2.29,4.02) (2.34,3.84) (2.42,3.71) (2.51,3.60) (2.60,3.51) (2.18,3.54) (2.23,3.29) (2.34,3.43)
(2.47,3.36) (2.68,3.21) (2.73,3.16) (2.27,2.93) (1.84,3.32) (1.96,3.93) (1.90,4.16)
(2.84,4.27) (2.98,4.38) (2.99,4.16) (3.04,3.96) (3.09,3.71) (2.91,3.60) (2.87,3.38) (2.96,3.18)
(3.29,4.51) (3.18,3.96) (4.96,3.58)};
\node[lab, anchor=base west, xshift=2pt, yshift=-14pt] at (rel axis cs:0,1) {68\%};
\node[lab, anchor=base east, xshift=-11pt, yshift=-14pt] at (rel axis cs:1,1) {32\%};
\node[xlab] at (rel axis cs:0.5,0) {CCR7};
\end{axis}

% y labels with arrows
\node[ylab] (t1) at (12pt,337pt) {Tet};
\draw[yarr] (t1.east) -- (t1.east |- 0,422pt);
\node[ylab] (t2) at (12pt,192pt) {INF-γ};
\draw[yarr] (t2.east) -- (t2.east |- 0,288pt);
\node[ylab] (t3) at (12pt,38pt) {IL-2};
\draw[yarr] (t3.east) -- (t3.east |- 0,128pt);
\node[ylab] (t4) at (325pt,337pt) {Tet};
\draw[yarr] (t4.east) -- (t4.east |- 0,422pt);
\node[ylab] (t5) at (325pt,192pt) {INF-γ};
\draw[yarr] (t5.east) -- (t5.east |- 0,288pt);
\node[ylab] (t6) at (325pt,38pt) {IL-2};
\draw[yarr] (t6.east) -- (t6.east |- 0,128pt);

% arrows between panels
\draw[harr] (119pt,383pt) -- (163pt,383pt);
\draw[harr] (434pt,383pt) -- (478pt,383pt);
\draw[harr] (119pt,238pt) -- (163pt,238pt);
\draw[harr] (434pt,238pt) -- (478pt,238pt);
\draw[harr] (119pt,88pt) -- (163pt,88pt);
\draw[harr] (434pt,88pt) -- (478pt,88pt);
\end{tikzpicture}
\end{document}
